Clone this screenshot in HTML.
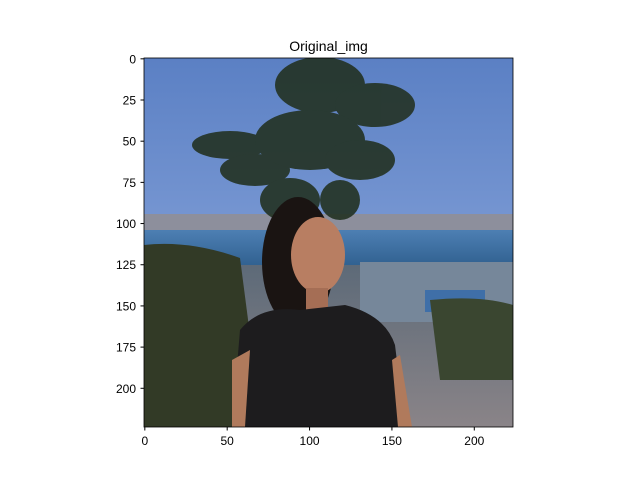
<!DOCTYPE html>
<html><head><meta charset="utf-8"><style>
body{margin:0;background:#fff;}
svg{display:block;font-family:"Liberation Sans","DejaVu Sans",sans-serif;}
</style></head><body>
<svg id="chart" width="640" height="480">
<defs>
<linearGradient id="sky" x1="0" y1="0" x2="0" y2="1">
<stop offset="0" stop-color="#5b80c4"/><stop offset="0.6" stop-color="#7f9dd6"/><stop offset="1" stop-color="#a3b5dc"/>
</linearGradient>
<linearGradient id="water" x1="0" y1="0" x2="0" y2="1">
<stop offset="0" stop-color="#4d7fb3"/><stop offset="1" stop-color="#2f5f8e"/>
</linearGradient>
<linearGradient id="ground" x1="0" y1="0" x2="0" y2="1">
<stop offset="0" stop-color="#5d6a78"/><stop offset="1" stop-color="#8a8488"/>
</linearGradient>
<clipPath id="imgclip"><rect x="144" y="58" width="369" height="369"/></clipPath>
</defs>
<g clip-path="url(#imgclip)">
<rect x="144" y="58" width="369" height="369" fill="url(#sky)"/>
<rect x="144" y="214" width="369" height="16" fill="#8d8f9c"/>
<rect x="144" y="230" width="369" height="38" fill="url(#water)"/>
<rect x="144" y="265" width="369" height="162" fill="url(#ground)"/>
<rect x="360" y="262" width="153" height="60" fill="#76879a"/>
<rect x="425" y="290" width="60" height="22" fill="#3f6fa8"/>
<path d="M144 245 Q190 240 240 258 L262 427 L144 427Z" fill="#323a26"/>
<path d="M430 300 Q480 295 513 305 L513 380 L440 380Z" fill="#3a4630"/>
<g fill="#233223" opacity="0.9">
<ellipse cx="230" cy="145" rx="38" ry="14"/>
<ellipse cx="255" cy="170" rx="35" ry="16"/>
<ellipse cx="320" cy="85" rx="45" ry="28"/>
<ellipse cx="375" cy="105" rx="40" ry="22"/>
<ellipse cx="310" cy="140" rx="55" ry="30"/>
<ellipse cx="360" cy="160" rx="35" ry="20"/>
<ellipse cx="290" cy="200" rx="30" ry="22"/>
<ellipse cx="340" cy="200" rx="20" ry="20"/>
</g>
<ellipse cx="298" cy="262" rx="36" ry="65" fill="#1a1412"/>
<ellipse cx="318" cy="255" rx="27" ry="38" fill="#b87e62"/>
<rect x="306" y="288" width="22" height="25" fill="#a56e55"/>
<path d="M240 330 Q260 305 300 310 L345 305 Q385 315 395 345 L405 427 L232 427Z" fill="#1d1c1e"/>
<path d="M232 360 L250 350 L245 427 L232 427Z" fill="#b07a5c"/>
<path d="M392 360 L400 355 L412 427 L398 427Z" fill="#b07a5c"/>
</g>
<rect x="144" y="58" width="369" height="369" fill="none" stroke="#000" stroke-width="0.8"/>
<text x="328.5" y="51" text-anchor="middle" font-size="14">Original_img</text>
<g id="xt"></g><g id="yt"></g>
<script>
const xTicks=[0,50,100,150,200];
const yTicks=[0,25,50,75,100,125,150,175,200];
const extent=[-0.5,223.5];
const x0=144,y0=58,size=369;
function sx(v){return x0+(v-extent[0])/(extent[1]-extent[0])*size;}
function sy(v){return y0+(v-extent[0])/(extent[1]-extent[0])*size;}
const ns="http://www.w3.org/2000/svg";
const xg=document.getElementById('xt'),yg=document.getElementById('yt');
xTicks.forEach(t=>{
 const l=document.createElementNS(ns,'line');
 l.setAttribute('x1',sx(t));l.setAttribute('x2',sx(t));l.setAttribute('y1',427);l.setAttribute('y2',430.5);l.setAttribute('stroke','#000');
 
 
 xg.appendChild(l);
 const tx=document.createElementNS(ns,'text');
 tx.setAttribute('x',sx(t));tx.setAttribute('y',445);tx.setAttribute('text-anchor','middle');tx.setAttribute('font-size','12');tx.textContent=t;
 
 
 xg.appendChild(tx);
});
yTicks.forEach(t=>{
 const l=document.createElementNS(ns,'line');
 l.setAttribute('x1',140.5);l.setAttribute('x2',144);l.setAttribute('y1',sy(t));l.setAttribute('y2',sy(t));l.setAttribute('stroke','#000');
 
 
 yg.appendChild(l);
 const tx=document.createElementNS(ns,'text');
 tx.setAttribute('x',136);tx.setAttribute('y',sy(t)+4.5);tx.setAttribute('text-anchor','end');tx.setAttribute('font-size','12');tx.textContent=t;
 
 
 yg.appendChild(tx);
});
</script>
</svg>
</body></html>
